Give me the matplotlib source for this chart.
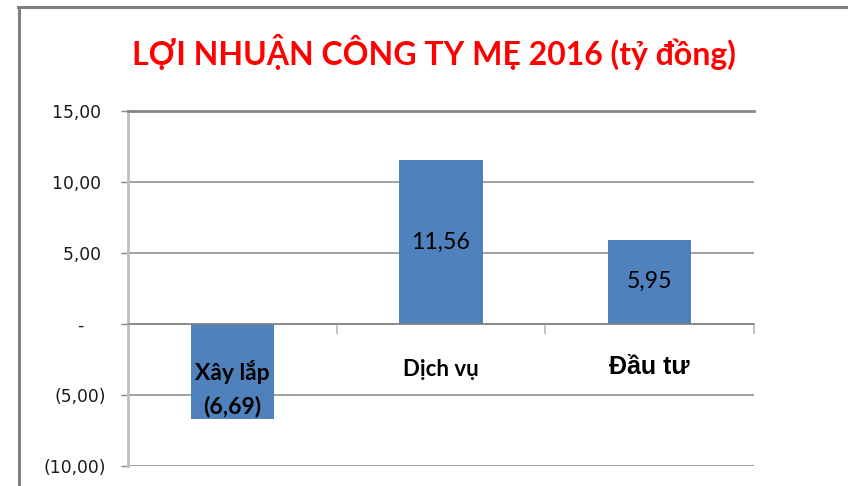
import matplotlib
matplotlib.use("Agg")
import matplotlib.pyplot as plt
from matplotlib.lines import Line2D

# ---- data ----
title = "LỢI NHUẬN CÔNG TY MẸ 2016 (tỷ đồng)"
categories = ["Xây lắp", "Dịch vụ", "Đầu tư"]
values = [-6.69, 11.56, 5.95]
y_ticks = [-10, -5, 0, 5, 10, 15]
y_tick_labels = ["(10,00)", "(5,00)", "-", "5,00", "10,00", "15,00"]

BAR = "#4F81BD"
GRID = "#868686"
LIGHT = "#BFBFBF"

W, H = 848, 486
fig = plt.figure(figsize=(W / 100, H / 100), dpi=100)
fig.patch.set_facecolor("white")

# outer chart frame (left and top edges visible)
fig.add_artist(Line2D([19 / W, 19 / W], [0, 1 - 7.5 / H], transform=fig.transFigure,
                      color="#808080", lw=2.2))
fig.add_artist(Line2D([18 / W, 1], [1 - 7.5 / H, 1 - 7.5 / H], transform=fig.transFigure,
                      color="#808080", lw=2.2))

ax = fig.add_axes([128 / W, (H - 466) / H, (754 - 128) / W, (466 - 111) / H])

x = list(range(len(categories)))
ax.bar(x, values, width=0.4, color=BAR, zorder=2)
ax.set_xlim(-0.5, len(categories) - 0.5)
ax.set_ylim(y_ticks[0], y_ticks[-1])

# gridlines and y tick labels (accounting-style alignment)
ax.set_yticks(y_ticks)
labels = []
for lab in y_tick_labels:
    if lab == "-":
        labels.append("-    ")
    elif lab.endswith(")"):
        labels.append(lab)
    else:
        labels.append(lab + " ")
ax.set_yticklabels(labels)
ax.yaxis.grid(True, color=GRID, lw=1.1, zorder=0)
ax.set_axisbelow(True)
ax.tick_params(axis="y", length=5, width=1, color=GRID, pad=10.5,
               labelsize=12.3, labelcolor="#1a1a1a")
for t in ax.get_yticklabels():
    t.set_fontfamily("DejaVu Sans")

# x axis at zero
ax.spines["bottom"].set_position(("data", 0))
ax.spines["bottom"].set_color(GRID)
ax.spines["bottom"].set_linewidth(1.1)
ax.spines["top"].set_visible(True)
ax.spines["top"].set_color(GRID)
ax.spines["top"].set_linewidth(2)
ax.spines["right"].set_visible(False)
ax.spines["left"].set_color(LIGHT)
ax.spines["left"].set_linewidth(2)
ax.set_xticks([i + 0.5 for i in x])
ax.set_xticklabels([])
ax.tick_params(axis="x", direction="out", length=7, width=1.3, color=LIGHT)

# category labels below the zero line
cat_styles = [
    dict(family="Lato", weight="bold", size=16.5, offset=-48),
    dict(family="Lato", weight="bold", size=16, offset=-45),
    dict(family="Liberation Sans", weight="bold", size=18, offset=-43),
]
for i, (c, st) in enumerate(zip(categories, cat_styles)):
    ax.annotate(c, xy=(i, 0), xytext=(0, st["offset"]), textcoords="offset pixels",
                ha="center", va="center", fontfamily=st["family"],
                fontweight=st["weight"], fontsize=st["size"], color="black", zorder=5)

# value labels
for i, v in enumerate(values):
    s = f"{abs(v):.2f}".replace(".", ",")
    if v < 0:
        s = f"({s})"
        ax.annotate(s, xy=(i, v), xytext=(0, 12), textcoords="offset pixels",
                    ha="center", va="center", fontfamily="Lato", fontweight="bold",
                    fontsize=16.5, color="black", zorder=5)
    else:
        ax.annotate(s, xy=(i, v / 2), xytext=(0, 0), textcoords="offset pixels",
                    ha="center", va="center", fontfamily="Lato",
                    fontsize=16.7, color="black", zorder=5)

fig.text(434 / W, 1 - 52 / H, title, ha="center", va="center", color="#FF0000",
         fontfamily="Lato", fontweight="bold", fontsize=23)

fig.savefig("out.png", dpi=100)
